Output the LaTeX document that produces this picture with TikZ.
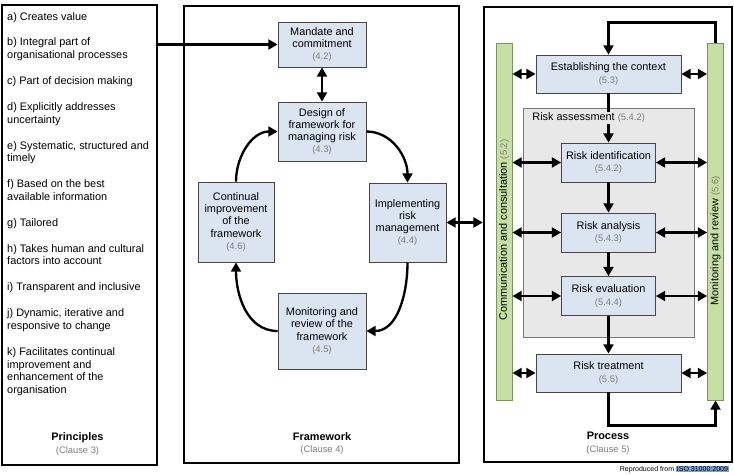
\documentclass[tikz,border=0pt]{standalone}
\usepackage{fontspec}
\setmainfont{Liberation Sans}
\usetikzlibrary{arrows.meta}

\definecolor{boxblue}{RGB}{219,229,241}
\definecolor{boxline}{RGB}{70,70,70}
\definecolor{barfill}{RGB}{198,224,164}
\definecolor{barline}{RGB}{120,150,90}
\definecolor{assessfill}{RGB}{232,232,232}
\definecolor{assessline}{RGB}{120,120,120}
\definecolor{numgray}{RGB}{125,125,125}
\definecolor{hlblue}{RGB}{122,163,204}

\newcommand{\clno}[1]{{\color{numgray}\fontsize{8}{10}\selectfont #1}}

\tikzset{
  panel/.style={shape=rectangle,draw=black,line width=2pt,inner sep=0pt},
  box/.style={shape=rectangle,draw=boxline,fill=boxblue,align=center,line width=0.6pt,inner sep=0pt,font=\fontsize{9.3}{10.5}\selectfont},
  bar/.style={shape=rectangle,draw=barline,fill=barfill,line width=0.6pt,minimum width=0.48cm,minimum height=10.71cm,inner sep=0pt},
  label/.style={align=center,font=\fontsize{9.3}{11}\selectfont},
  arr/.style={-{Triangle[length=8pt,width=8.5pt]},line width=2pt},
  dbl/.style={{Triangle[length=8pt,width=8.5pt]}-{Triangle[length=8pt,width=8.5pt]},line width=2pt}
}

\begin{document}
\begin{tikzpicture}[x=0.03cm,y=-0.03cm]
\useasboundingbox (0,0) rectangle (734,474);

% panels
\node[panel,minimum width=4.65cm,minimum height=13.8cm] (0) at (79.5,235) {};
\node[panel,minimum width=8.25cm,minimum height=13.71cm] (1) at (321.5,234.5) {};
\node[panel,minimum width=7.44cm,minimum height=13.65cm] (2) at (608,234.5) {};

% framework
\node[box,minimum width=2.64cm,minimum height=1.35cm] (3) at (322,44.5) {Mandate and\\commitment\\\clno{(4.2)}};
\node[box,minimum width=2.64cm,minimum height=1.77cm] (4) at (322,131.5) {Design of\\framework for\\managing risk\\\clno{(4.3)}};
\node[box,minimum width=2.31cm,minimum height=2.37cm] (5) at (407.5,222.5) {Implementing\\risk\\management\\\clno{(4.4)}};
\node[box,minimum width=2.64cm,minimum height=2.28cm] (6) at (322,331) {Monitoring and\\review of the\\framework\\\clno{(4.5)}};
\node[box,minimum width=2.28cm,minimum height=2.4cm] (7) at (236,222) {Continual\\improvement\\of the\\framework\\\clno{(4.6)}};

% process
\node[bar] (8) at (504,221.5) {};
\node[bar] (9) at (715.5,221.5) {};
\node[shape=rectangle,draw=assessline,fill=assessfill,line width=0.6pt,minimum width=5.13cm,minimum height=6.87cm] (10) at (608.5,222.5) {};
\node[box,minimum width=4.35cm,minimum height=1.14cm] (11) at (608.5,74) {Establishing the context\\\clno{(5.3)}};
\node[box,minimum width=2.82cm,minimum height=1.17cm] (12) at (608.5,162.5) {Risk identification\\\clno{(5.4.2)}};
\node[box,minimum width=2.82cm,minimum height=1.17cm] (13) at (608.5,232.5) {Risk analysis\\\clno{(5.4.3)}};
\node[box,minimum width=2.82cm,minimum height=1.17cm] (14) at (608.5,296) {Risk evaluation\\\clno{(5.4.4)}};
\node[box,minimum width=4.35cm,minimum height=1.14cm] (15) at (608.5,373) {Risk treatment\\\clno{(5.5)}};

% principles
\node[anchor=north west,align=left,inner sep=0pt,font=\fontsize{9.3}{11}\selectfont] (16) at (7,12) {a) Creates value\\[11pt]
b) Integral part of\\organisational processes\\[11pt]
c) Part of decision making\\[11pt]
d) Explicitly addresses\\uncertainty\\[11pt]
e) Systematic, structured and\\timely\\[11pt]
f) Based on the best\\available information\\[11pt]
g) Tailored\\[11pt]
h) Takes human and cultural\\factors into account\\[11pt]
i) Transparent and inclusive\\[11pt]
j) Dynamic, iterative and\\responsive to change\\[11pt]
k) Facilitates continual\\improvement and\\enhancement of the\\organisation};

\node[label] (17) at (77.5,444) {\textbf{Principles}\\\clno{(Clause 3)}};
\node[label] (18) at (322,443.5) {\textbf{Framework}\\\clno{(Clause 4)}};
\node[label] (19) at (608,443.5) {\textbf{Process}\\\clno{(Clause 5)}};

% connectors
\draw[arr] (0.east |- 3.west) -- (3.west);
\draw[dbl] (3.south) -- (4.north);
\draw[arr] (4.east) to[out=0,in=90] (5.north);
\draw[arr] (5.south) to[out=-90,in=0] (6.east);
\draw[arr] (6.west) to[out=180,in=-90] (7.south);
\draw[arr] (7.north) to[out=90,in=180] (4.west);
\draw[dbl] (5.east) -- (2.west |- 5.east);

\draw[arr] (9.north) -- ++(0,-20) -| (11.north);
\draw[arr] (11.south) -- (12.north);
\draw[arr] (12.south) -- (13.north);
\draw[arr] (13.south) -- (14.north);
\draw[arr] (14.south) -- (15.north);
\draw[arr] (15.south) -- ++(0,33) -| (9.south);
\foreach \n in {11,12,13,14,15} {
  \draw[dbl] (8.east |- \n.west) -- (\n.west);
  \draw[dbl] (\n.east) -- (9.west |- \n.east);
}

\node[anchor=west,fill=assessfill,inner sep=1pt,font=\fontsize{9.3}{11}\selectfont] (20) at (531,118) {Risk assessment \clno{(5.4.2)}};
\node[rotate=90,font=\fontsize{9.3}{11}\selectfont] (21) at (504,230) {Communication and consultation \clno{(5.2)}};
\node[rotate=90,font=\fontsize{9.3}{11}\selectfont] (22) at (715.5,241) {Monitoring and review \clno{(5.6)}};
\node[anchor=east,inner sep=0pt,font=\fontsize{6}{7}\selectfont] (23) at (729,469.5) {Reproduced from \setlength{\fboxsep}{0.6pt}\colorbox{hlblue}{ISO 31000:2009}};

\end{tikzpicture}
\end{document}
